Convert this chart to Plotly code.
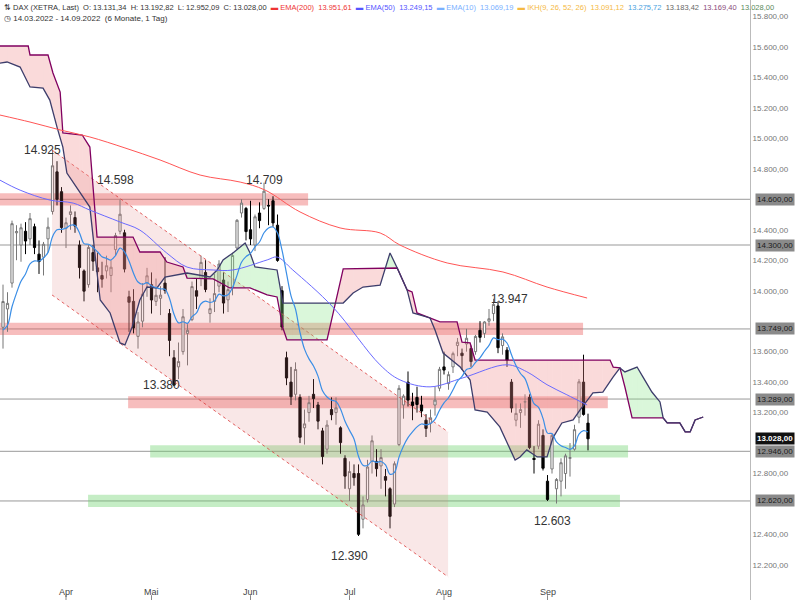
import numpy as np
import pandas as pd
import plotly.graph_objects as go

dates = [d for d in pd.bdate_range("2022-03-14", "2022-09-14") if d.strftime("%m-%d") not in ("04-15", "04-18")]

ohlc = [
(13760,14040,13620,13929),(13880,13990,13730,13917),(14050,14460,14020,14440),(14380,14430,14200,14388),
(14300,14440,14190,14413),(14390,14450,14240,14326),(14340,14510,14300,14473),(14420,14440,14240,14283),
(14240,14330,14110,14191),(14220,14320,14100,14305),(14340,14480,14250,14417),(14520,14925,14500,14820),
(14780,14850,14560,14600),(14650,14680,14380,14415),
(14410,14480,14280,14446),(14500,14560,14400,14518),(14480,14520,14380,14424),(14300,14330,14080,14152),
(14130,14140,13930,13997),(14040,14300,14020,14284),(14250,14300,14130,14194),(14150,14250,13990,14125),
(14100,14190,14020,14076),(14130,14230,14080,14164),(14100,14200,13990,14154),(14270,14380,14230,14362),
(14390,14598,14370,14502),(14380,14400,14120,14142),(13960,14000,13730,13924),(13930,14010,13720,13756),
(13700,13860,13620,13795),(13800,14050,13760,13978),(14050,14150,13960,14098),
(14040,14120,13850,13939),(13930,14080,13900,13970),(13950,14030,13840,13971),(14050,14220,13980,14001),
(13850,13880,13570,13674),(13560,13610,13380,13380),(13500,13660,13420,13535),(13600,13880,13580,13829),
(13720,13780,13510,13740),(13810,14060,13800,14027),(14000,14080,13880,13964),(14080,14230,14030,14186),
(14120,14200,13990,14008),(13850,13950,13790,13882),(13930,14110,13860,13981),(14030,14200,13990,14175),
(14070,14120,13850,13919),(13940,14060,13860,14007),(14020,14250,13970,14231),(14280,14470,14270,14462),
(14510,14600,14480,14575),(14540,14550,14330,14388),
(14400,14590,14300,14340),(14300,14500,14260,14485),(14510,14580,14410,14460),(14540,14709,14530,14653),
(14560,14600,14430,14556),(14590,14620,14420,14445),(14430,14500,14190,14199),(14000,14030,13740,13761),
(13560,13600,13380,13427),(13400,13500,13250,13304),(13320,13530,13280,13483),(13300,13320,13000,13038),
(13100,13220,12990,13126),(13200,13310,13140,13265),(13320,13420,13230,13292),(13250,13270,13090,13144),
(13080,13100,12860,12912),(12960,13150,12930,13118),(13220,13300,13150,13186),(13200,13300,13120,13231),
(13100,13110,12930,13003),(12900,12920,12700,12783),
(12700,12880,12620,12813),(12800,12860,12720,12773),(12800,12860,12390,12401),(12500,12650,12440,12594),
(12630,12890,12610,12843),(12880,13050,12800,13015),(12880,12960,12780,12832),(12850,12960,12700,12905),
(12780,12830,12650,12756),(12700,12710,12440,12519),(12600,12880,12580,12864),(12990,13380,12980,13359),
(13250,13320,13160,13308),(13400,13470,13240,13282),(13270,13330,13150,13246),(13300,13370,13200,13253),
(13250,13310,13170,13210),(13150,13190,13040,13096),(13130,13220,13070,13166),(13250,13370,13180,13282),
(13360,13500,13340,13484),
(13500,13600,13450,13479),(13390,13470,13350,13449),(13500,13600,13460,13587),(13640,13690,13570,13662),
(13590,13620,13480,13574),(13650,13750,13600,13688),(13620,13640,13500,13535),(13600,13710,13580,13700),
(13740,13800,13660,13694),(13720,13800,13690,13795),(13800,13880,13770,13816),(13850,13947,13800,13910),
(13900,13930,13590,13626),(13640,13720,13580,13697),(13610,13630,13500,13544),(13400,13420,13200,13230),
(13150,13260,13110,13195),(13200,13260,13100,13220),(13270,13320,13180,13271),(13300,13320,12960,12971),
(12900,12980,12800,12892),(12980,13150,12960,13124),(13050,13090,12820,12835),
(12750,12790,12620,12630),(12830,13060,12800,13050),(12700,12770,12603,12761),(12750,12900,12650,12871),
(12800,12930,12700,12916),(12900,13000,12780,12904),(12960,13120,12950,13088),(13170,13420,13130,13402),
(13400,13580,13180,13188),(13131,13193,12952,13028),
]
opens = [r[0] for r in ohlc]; highs = [r[1] for r in ohlc]; lows = [r[2] for r in ohlc]; closes = [r[3] for r in ohlc]
idx = list(range(len(ohlc)))

ema200_x = [-0.7,6,12.7,19.3,27.1,34.9,43.8,52.7,58.2,66,74.9,83.8,88.2,98.7,111.1,120.9,129.8]
ema200_v = [15153,15107,15055,15009,14937,14858,14759,14713,14661,14517,14412,14379,14300,14182,14123,14024,13952]
ema50_x = [-0.7,3.8,10.4,15.6,19.3,26,30.4,36.4,40.9,46.7,51.1,58.7,60.9,64.4,73.3,83.8,88.2,94.9,102.2,112,116.4,120.9,125.3,129.8]
ema50_v = [14726,14660,14595,14575,14529,14451,14398,14247,14155,14136,14136,14202,14221,14136,13893,13513,13415,13369,13428,13514,13468,13383,13317,13250]

spanb_x = [-0.7,5.6,6.0,10,11.1,12.7,13.3,17.6,19.3,20.9,28.9,30.4,34.9,36.4,40,40.9,46.7,50.4,54.9,58.7,60.9,62.2,63.1,72,75.6,87.6,89.8,90.9,92,94.9,97.1,100.9,102,103.8,104.9,134.9,135.6,137.1,138.2,139.8,146.7,147.6,150.4,151.6,152.7,153.8,155.6]
spanb_v = [15606,15606,15547,15547,15429,15304,15035,15022,14943,14352,14352,14254,14254,14188,14156,14083,14077,14018,14018,13972,13959,13755,13677,13677,14143,14149,14005,13992,13854,13821,13795,13795,13663,13657,13545,13545,13499,13493,13368,13165,13165,13132,13132,13073,13073,13152,13171]
spana_x = [-0.7,0.9,3.8,6.0,8.9,10.4,12,13.3,14.2,17.1,19.3,20.9,21.6,23.8,26,27.1,28.7,30.4,32,34.2,36,40.9,46,47.6,48.9,51.1,52.7,53.8,54.9,56,60.9,62.2,64.4,71.1,75.6,77.8,80,83.8,86,87.6,89.8,91.1,94.9,96,97.8,101.6,103.8,104.9,107.6,110.4,113.8,114.9,116.4,118.7,120.9,122.2,124.2,126.7,128.2,131.1,133.3,135.6,137.1,138.2,140.9,142.2,144.2,146,146.7,147.6,150.4,151.6,152.7,153.8,155.6]
spana_v = [15494,15501,15468,15337,15330,15251,15074,14943,14772,14641,14549,14116,13939,13854,13657,13644,13762,13939,14024,14018,14090,14116,14090,14136,14202,14248,14287,14313,14248,14156,14136,13919,13919,13919,13919,13985,14024,14037,14248,14149,14005,13854,13821,13742,13591,13499,13414,13217,13204,13106,12889,12909,12955,12909,12909,13034,13132,13152,13217,13329,13335,13434,13493,13467,13499,13434,13335,13270,13165,13132,13132,13073,13073,13152,13171]

levels = [14600, 14300, 13749, 13289, 12946, 12620]
level_labels = ["14.600,00", "14.300,00", "13.749,00", "13.289,00", "12.946,00", "12.620,00"]
last_price = 13028
bands = [(14600, -0.7, 67.8, "red"), (13749, -0.7, 128.9, "red"), (13268, 27.8, 134.4, "red"),
         (12946, 32.7, 138.9, "green"), (12620, 18.9, 137.1, "green")]
channel_top = [(10.9, 14923), (98.9, 13073)]
channel_bot = [(10.9, 13972), (98.9, 12122)]
pivots = [(8.7, 14925, "14.925", 0), (25, 14598, "14.598", 20), (58, 14709, "14.709", 3), (35.3, 13380, "13.380", 0),
          (77, 12390, "12.390", -20), (112.5, 13947, "13.947", 0), (122, 12603, "12.603", -17)]
months = [("Apr", 14), ("Mai", 33), ("Jun", 55), ("Jul", 77), ("Aug", 98), ("Sep", 121)]

fig = go.Figure()

cx = [channel_top[0][0], channel_top[1][0], channel_bot[1][0], channel_bot[0][0], channel_top[0][0]]
cy = [channel_top[0][1], channel_top[1][1], channel_bot[1][1], channel_bot[0][1], channel_top[0][1]]
fig.add_trace(go.Scatter(x=cx, y=cy, fill="toself", fillcolor="rgba(220,120,120,0.18)", line=dict(width=0), mode="lines", hoverinfo="skip"))
for seg in (channel_top, channel_bot):
    fig.add_trace(go.Scatter(x=[p[0] for p in seg], y=[p[1] for p in seg], mode="lines", line=dict(color="rgba(220,60,60,0.8)", width=1, dash="dot")))

# cloud fill, split where the two spans cross
grid = np.unique(np.concatenate([spana_x, spanb_x]))
ga = np.interp(grid, spana_x, spana_v); gb = np.interp(grid, spanb_x, spanb_v)
pts = [(grid[0], ga[0], gb[0])]
for i in range(1, len(grid)):
    d0 = ga[i-1] - gb[i-1]; d1 = ga[i] - gb[i]
    if d0 * d1 < 0:
        t = d0 / (d0 - d1); xc = grid[i-1] + t * (grid[i] - grid[i-1]); yc = ga[i-1] + t * (ga[i] - ga[i-1])
        pts.append((xc, yc, yc))
    pts.append((grid[i], ga[i], gb[i]))
for i in range(len(pts) - 1):
    p, q = pts[i], pts[i + 1]
    diff = (p[1] - p[2]) + (q[1] - q[2])
    if abs(diff) < 1e-6:
        continue
    fig.add_trace(go.Scatter(x=[p[0], q[0], q[0], p[0], p[0]], y=[p[1], q[1], q[2], p[2], p[1]], fill="toself",
                             mode="lines", line=dict(width=0), hoverinfo="skip",
                             fillcolor="rgba(140,230,140,0.32)" if diff > 0 else "rgba(240,140,140,0.32)"))
fig.add_trace(go.Scatter(x=spanb_x, y=spanb_v, mode="lines", line=dict(color="#800060", width=1.3)))
fig.add_trace(go.Scatter(x=spana_x, y=spana_v, mode="lines", line=dict(color="#3d3d6b", width=1.3)))

ema10 = []; e = 13700.0; k = 2 / 11
for c in closes:
    e = e + k * (c - e); ema10.append(e)
fig.add_trace(go.Scatter(x=ema200_x, y=ema200_v, mode="lines", line=dict(color="#ff5555", width=1, shape="spline")))
fig.add_trace(go.Scatter(x=ema50_x, y=ema50_v, mode="lines", line=dict(color="#6a6aff", width=1, shape="spline")))
fig.add_trace(go.Scatter(x=idx, y=ema10, mode="lines", line=dict(color="#3a8ee6", width=1.2, shape="spline")))

fig.add_trace(go.Candlestick(x=idx, open=opens, high=highs, low=lows, close=closes, whiskerwidth=0,
    increasing=dict(fillcolor="white", line=dict(color="#777", width=1)),
    decreasing=dict(fillcolor="black", line=dict(color="black", width=1))))

shapes = []
for v in levels:
    shapes.append(dict(type="line", xref="paper", x0=0, x1=1, y0=v, y1=v, line=dict(color="#999", width=1), layer="below"))
for v, a, b, col in bands:
    shapes.append(dict(type="rect", x0=a, x1=b, y0=v - 40, y1=v + 40, line=dict(width=0),
                       fillcolor="rgba(235,90,90,0.4)" if col == "red" else "rgba(110,210,110,0.4)", layer="below"))
for name, i in months:
    shapes.append(dict(type="line", x0=i, x1=i, yref="paper", y0=0, y1=0.008, line=dict(color="#888", width=1)))

ann = []
for x, v, t, sh in pivots:
    ann.append(dict(x=x, y=v, text=t, showarrow=False, yshift=sh, font=dict(size=12, color="#333", family="Liberation Sans")))
for name, i in months:
    ann.append(dict(x=i, y=0, yref="paper", text=name, showarrow=False, yanchor="bottom", yshift=1,
                    font=dict(size=9, color="#444", family="Liberation Sans")))
for v, t in zip(levels, level_labels):
    ann.append(dict(x=1, xref="paper", y=v, text=t, showarrow=False, xanchor="left", xshift=5,
                    bgcolor="#8a8a8a", borderpad=1, font=dict(size=8, color="#1a1a1a", family="Liberation Sans")))
ann.append(dict(x=1, xref="paper", y=last_price, text="<b>13.028,00</b>", showarrow=False, xanchor="left", xshift=5,
                bgcolor="#111", borderpad=1, font=dict(size=8, color="white", family="Liberation Sans")))
hdr = ("⇅ DAX (XETRA, Last)  O: 13.131,34  H: 13.192,82  L: 12.952,09  C: 13.028,00  "
       "<span style='color:#e33'>▬ EMA(200)  13.951,61</span>  <span style='color:#55f'>▬ EMA(50)  13.249,15</span>  "
       "<span style='color:#7ab0ff'>▬ EMA(10)  13.069,19</span>  <span style='color:#f5b942'>▬ IKH(9, 26, 52, 26)  13.091,12</span>  "
       "<span style='color:#4aa3e0'>13.275,72</span>  <span style='color:#666'>13.183,42</span>  "
       "<span style='color:#8a4a7a'>13.169,40</span>  <span style='color:#5a8a5a'>13.028,00</span>")
ann.append(dict(x=0, y=1, xref="paper", yref="paper", xanchor="left", yanchor="top", yshift=-1, xshift=2, text=hdr,
                showarrow=False, font=dict(size=7.5, color="#333", family="Liberation Sans Narrow, Liberation Sans")))
ann.append(dict(x=0, y=1, xref="paper", yref="paper", xanchor="left", yanchor="top", yshift=-12, xshift=2,
                text="◷ 14.03.2022 - 14.09.2022  (6 Monate, 1 Tag)", showarrow=False,
                font=dict(size=8, color="#333", family="Liberation Sans")))

ticks = [t for t in range(12000, 15801, 200) if all(abs(t - l) > 60 for l in levels + [last_price])]
fig.update_layout(width=800, height=600, margin=dict(l=0, r=50, t=0, b=0), showlegend=False,
                  paper_bgcolor="white", plot_bgcolor="white", shapes=shapes, annotations=ann,
                  xaxis=dict(range=[-0.67, 166], showgrid=False, showticklabels=False, zeroline=False,
                             rangeslider=dict(visible=False), showline=True, linecolor="#bbb", mirror=True),
                  yaxis=dict(range=[11970, 15908], side="right", tickvals=ticks,
                             ticktext=[f"{t//1000}.{t%1000:03d},00" for t in ticks],
                             tickfont=dict(size=8, color="#777", family="Liberation Sans"),
                             showgrid=False, zeroline=False, showline=True, linecolor="#bbb", ticks=""))
fig.write_html("out.html", config={"displayModeBar": False},
               post_script="document.body.style.margin='0';document.body.style.overflow='hidden';")
